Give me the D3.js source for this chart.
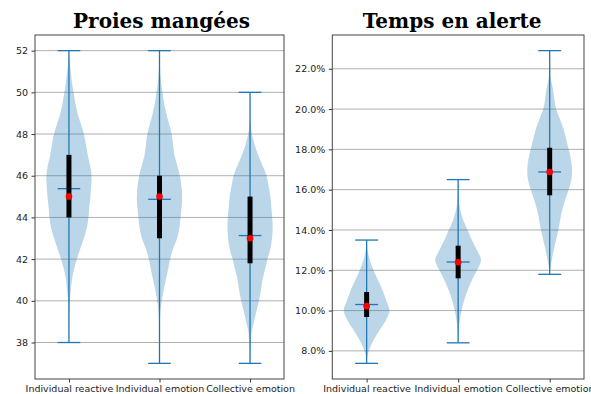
<!DOCTYPE html>
<html>
<head>
<meta charset="utf-8">
<script src="https://cdn.jsdelivr.net/npm/d3@7"></script>
<style>
  body { margin: 0; background: #fff; }
  svg { display: block; }
</style>
</head>
<body>
<svg id="chart" width="591" height="394"></svg>
<script>
// categories
const groups = ["Individual reactive", "Individual emotion", "Collective emotion"];

// Proies mangées
const preyMin = [38, 37, 37];
const preyMax = [52, 52, 50];
const preyQ1 = [44, 43, 41.8];
const preyQ3 = [47, 46, 45];
const preyMedian = [45, 45, 43];
const preyMean = [45.38, 44.87, 43.13];
const preyTicks = [38, 40, 42, 44, 46, 48, 50, 52];
// violin outline: [value, relative half width]
const preyShapeIR = [[38,0],[39,0.01],[39.5,0.02],[40,0.04],[40.5,0.08],[41,0.13],[41.5,0.22],[42,0.35],[42.5,0.5],[43,0.66],[43.5,0.79],[44,0.86],[44.5,0.9],[45,0.95],[45.5,0.98],[46,1.0],[46.5,0.93],[47,0.83],[47.5,0.75],[48,0.66],[48.5,0.52],[49,0.38],[49.5,0.28],[50,0.2],[50.5,0.13],[51,0.08],[51.5,0.03],[52,0]];
const preyShapeIE = [[37,0],[38,0.005],[39,0.02],[39.5,0.04],[40,0.1],[40.5,0.18],[41,0.28],[41.5,0.38],[42,0.47],[42.5,0.6],[43,0.78],[43.5,0.88],[44,0.93],[44.5,0.98],[45,1.0],[45.5,0.97],[46,0.9],[46.5,0.78],[47,0.66],[47.5,0.6],[48,0.54],[48.5,0.42],[49,0.3],[49.5,0.2],[50,0.13],[50.5,0.07],[51,0.03],[51.5,0.01],[52,0]];
const preyShapeCE = [[37,0],[37.5,0.01],[38,0.03],[38.5,0.07],[39,0.17],[39.5,0.28],[40,0.39],[40.5,0.48],[41,0.55],[41.5,0.66],[42,0.77],[42.5,0.9],[43,0.97],[43.5,1.0],[44,0.98],[44.5,0.94],[45,0.9],[45.5,0.82],[46,0.73],[46.5,0.55],[47,0.36],[47.5,0.2],[48,0.08],[48.5,0.03],[49,0.01],[50,0]];

// Temps en alerte (percent)
const alertMin = [7.38, 8.4, 11.8];
const alertMax = [13.5, 16.5, 22.9];
const alertQ1 = [9.68, 11.6, 15.72];
const alertQ3 = [10.92, 13.22, 18.08];
const alertMedian = [10.22, 12.4, 16.88];
const alertMean = [10.3, 12.41, 16.88];
const alertTicks = [8, 10, 12, 14, 16, 18, 20, 22];
const alertShapeIR = [[7.38,0],[7.6,0.01],[8,0.1],[8.5,0.29],[9,0.55],[9.5,0.83],[10,1.0],[10.5,0.86],[11,0.7],[11.5,0.5],[12,0.3],[12.5,0.14],[13,0.04],[13.5,0]];
const alertShapeIE = [[8.4,0],[9,0.02],[9.5,0.07],[10,0.15],[10.5,0.26],[11,0.41],[11.5,0.6],[12,0.82],[12.5,1.0],[13,0.82],[13.5,0.6],[14,0.41],[14.5,0.22],[15,0.09],[15.5,0.03],[16,0.01],[16.5,0]];
const alertShapeCE = [[11.8,0],[12,0.02],[12.5,0.09],[13,0.18],[13.5,0.28],[14,0.38],[14.5,0.46],[15,0.55],[15.5,0.68],[16,0.83],[16.5,0.95],[17,0.98],[17.5,0.93],[18,0.83],[18.5,0.72],[19,0.61],[19.5,0.45],[20,0.28],[20.5,0.2],[21,0.14],[21.5,0.05],[22,0.02],[22.9,0]];

const blue = "#1f77b4";

function drawPanel(opts) {
    const svg = d3.select("#chart");
    const g = svg.append("g").attr("transform", `translate(${opts.left},${opts.top})`);
    const innerWidth = opts.width;
    const innerHeight = opts.height;

    const allMin = d3.min(opts.mins), allMax = d3.max(opts.maxs);
    const pad = (allMax - allMin) * 0.05;
    const y = d3.scaleLinear().domain([allMin - pad, allMax + pad]).range([innerHeight, 0]);
    const x = d3.scaleLinear().domain([0.625, 3.375]).range([0, innerWidth]);
    const halfW = x(1.25) - x(1);

    // grid
    g.selectAll(".grid")
        .data(opts.ticks)
        .enter().append("line")
        .attr("x1", 0).attr("x2", innerWidth)
        .attr("y1", d => y(d)).attr("y2", d => y(d))
        .attr("stroke", "#b0b0b0")
        .attr("stroke-width", 1);

    const rows = groups.map((name, i) => ({
        name, pos: i + 1,
        min: opts.mins[i], max: opts.maxs[i],
        q1: opts.q1[i], q3: opts.q3[i],
        median: opts.medians[i], mean: opts.means[i],
        shape: opts.shapes[i]
    }));

    // violin bodies
    rows.forEach(r => {
        const area = d3.area()
            .y(d => y(d[0]))
            .x0(d => x(r.pos) - d[1] * halfW)
            .x1(d => x(r.pos) + d[1] * halfW)
            .curve(d3.curveCatmullRom);
        g.append("path")
            .datum(r.shape)
            .attr("d", area)
            .attr("fill", blue)
            .attr("fill-opacity", 0.3)
            .attr("stroke", "none");
    });

    // whiskers, caps, means
    const cap = halfW / 2;
    rows.forEach(r => {
        const cx = x(r.pos);
        g.append("line").attr("x1", cx).attr("x2", cx)
            .attr("y1", y(r.min)).attr("y2", y(r.max))
            .attr("stroke", blue).attr("stroke-width", 1.3);
        [r.min, r.max, r.mean].forEach(v => {
            g.append("line").attr("x1", cx - cap).attr("x2", cx + cap)
                .attr("y1", y(v)).attr("y2", y(v))
                .attr("stroke", blue).attr("stroke-width", 1.3);
        });
        // quartile box (black)
        g.append("line").attr("x1", cx).attr("x2", cx)
            .attr("y1", y(r.q1)).attr("y2", y(r.q3))
            .attr("stroke", "#000").attr("stroke-width", 5);
        // median dot (red)
        g.append("circle")
            .attr("cx", cx).attr("cy", y(r.median))
            .attr("r", 3.3).attr("fill", "red");
    });

    // axes
    const yAxis = g.append("g")
        .call(d3.axisLeft(y).tickValues(opts.ticks).tickFormat(opts.format).tickSize(3.5).tickPadding(3.5).tickSizeOuter(0));
    const xAxis = g.append("g")
        .attr("transform", `translate(0,${innerHeight})`)
        .call(d3.axisBottom(x).tickValues([1, 2, 3]).tickFormat(d => groups[d - 1]).tickSize(3.5).tickPadding(3).tickSizeOuter(0));
    [yAxis, xAxis].forEach(a => {
        a.select(".domain").remove();
        a.selectAll("line").attr("stroke", "#333");
        a.selectAll("text").attr("fill", "#222")
            .style("font-family", "DejaVu Sans").style("font-size", "9.5px");
    });

    // frame
    g.append("rect")
        .attr("width", innerWidth).attr("height", innerHeight)
        .attr("fill", "none").attr("stroke", "#444").attr("stroke-width", 1);

    // title
    g.append("text")
        .attr("x", innerWidth / 2 + opts.titleShift).attr("y", -7)
        .attr("text-anchor", "middle")
        .style("font-family", "DejaVu Serif").style("font-weight", "bold").style("font-size", "20px")
        .attr("fill", "#000")
        .text(opts.title);
}

drawPanel({
    title: "Proies mangées", titleShift: 2, left: 35, top: 35, width: 249, height: 344,
    mins: preyMin, maxs: preyMax, q1: preyQ1, q3: preyQ3, medians: preyMedian, means: preyMean,
    shapes: [preyShapeIR, preyShapeIE, preyShapeCE], ticks: preyTicks, format: d3.format("d")
});

drawPanel({
    title: "Temps en alerte", titleShift: -6, left: 332.3, top: 35, width: 251.7, height: 344,
    mins: alertMin, maxs: alertMax, q1: alertQ1, q3: alertQ3, medians: alertMedian, means: alertMean,
    shapes: [alertShapeIR, alertShapeIE, alertShapeCE], ticks: alertTicks, format: d => d.toFixed(1) + "%"
});
</script>
</body>
</html>
